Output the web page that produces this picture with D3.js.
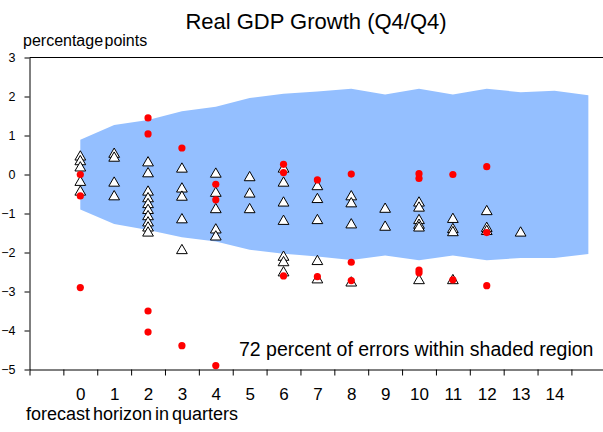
<!DOCTYPE html>
<html>
<head>
<meta charset="utf-8">
<script src="https://cdn.jsdelivr.net/npm/d3@7"></script>
<style>
  body { margin: 0; background: white; }
  text { font-family: 'Liberation Sans', Arial, sans-serif; fill: #000; }
</style>
</head>
<body>
<div id="chart"></div>
<script>
/* global d3 */

// forecast horizon (quarters) for the shaded band
var horizons = [0, 1, 2, 3, 4, 5, 6, 7, 8, 9, 10, 11, 12, 13, 14, 15];
var bandUpper = [0.89, 1.27, 1.40, 1.62, 1.74, 1.96, 2.07, 2.13, 2.20, 2.05, 2.20, 2.05, 2.20, 2.11, 2.15, 2.03];
var bandLower = [-0.90, -1.27, -1.42, -1.61, -1.72, -1.93, -2.03, -2.10, -2.19, -2.08, -2.20, -2.08, -2.20, -2.14, -2.14, -2.04];

// errors drawn as open triangles, one list per horizon 0..13
var triangleErrors = [
  [0.45, 0.33, 0.17, -0.20, -0.45],
  [0.52, 0.42, -0.22, -0.57],
  [0.30, 0.02, -0.45, -0.62, -0.77, -0.92, -1.08, -1.24, -1.37, -1.50],
  [0.14, -0.37, -0.58, -1.16, -1.95],
  [0.01, -0.48, -0.90, -1.42, -1.60],
  [-0.08, -0.50, -0.90],
  [0.14, -0.22, -0.73, -1.20, -2.12, -2.26, -2.52],
  [-0.31, -0.64, -1.18, -2.23, -2.70],
  [-0.57, -0.75, -1.29, -2.78],
  [-0.89, -1.35],
  [-0.73, -0.86, -1.18, -1.30, -1.37, -2.72],
  [-1.15, -1.41, -1.49, -2.72],
  [-0.95, -1.38, -1.46],
  [-1.50]
];

// errors drawn as red dots, one list per horizon 0..12
var dotErrors = [
  [0.00, -0.55, -2.90],
  [],
  [1.45, 1.04, -3.50, -4.04],
  [0.68, -4.39],
  [-0.25, -0.65, -4.90],
  [],
  [0.26, 0.05, -2.60],
  [-0.14, -2.62],
  [0.01, -2.25, -2.72],
  [],
  [0.02, -0.10, -2.45, -2.52],
  [0.00, -2.70],
  [0.20, -1.49, -2.85]
];

var xTickLabels = [0, 1, 2, 3, 4, 5, 6, 7, 8, 9, 10, 11, 12, 13, 14];
var xTickMarks = [-1.5, -0.5, 0.5, 1.5, 2.5, 3.5, 4.5, 5.5, 6.5, 7.5, 8.5, 9.5, 10.5, 11.5, 12.5, 13.5, 14.5, 15.5];
var yTickValues = [-5, -4, -3, -2, -1, 0, 1, 2, 3];

var WIDTH = 603;
var HEIGHT = 432;
var LEFT = 29.5;
var TOP = 57.5;
var BOTTOM = 369.5;

var svg = d3.select('#chart')
  .append('svg')
  .attr('width', WIDTH)
  .attr('height', HEIGHT)
  .style('background', 'white');

var x = d3.scaleLinear().domain([-1.5, 15.5]).range([LEFT, LEFT + 17 * 33.87]);
var y = d3.scaleLinear().domain([-5, 3]).range([BOTTOM, TOP]);

// shaded region
var area = d3.area()
  .x(function(d, i) { return x(horizons[i]); })
  .y0(function(d, i) { return y(bandLower[i]); })
  .y1(function(d, i) { return y(bandUpper[i]); });

svg.append('path')
  .datum(horizons)
  .attr('d', area)
  .attr('fill', '#94bfff');

// flatten the per-horizon lists into points
function toPoints(lists) {
  var pts = [];
  lists.forEach(function(vals, h) {
    vals.forEach(function(v) { pts.push({ h: h, v: v }); });
  });
  return pts;
}

var tri = d3.symbol().type(d3.symbolTriangle).size(50);

svg.append('g')
  .selectAll('path')
  .data(toPoints(triangleErrors))
  .enter()
  .append('path')
  .attr('d', tri)
  .attr('transform', function(d) { return 'translate(' + x(d.h) + ',' + y(d.v) + ')'; })
  .attr('fill', 'white')
  .attr('stroke', 'black')
  .attr('stroke-width', 1);

svg.append('g')
  .selectAll('circle')
  .data(toPoints(dotErrors))
  .enter()
  .append('circle')
  .attr('cx', function(d) { return x(d.h); })
  .attr('cy', function(d) { return y(d.v); })
  .attr('r', 3.6)
  .attr('fill', '#ff0000');

// top frame line
svg.append('line')
  .attr('x1', LEFT).attr('x2', WIDTH)
  .attr('y1', TOP).attr('y2', TOP)
  .attr('stroke', 'black')
  .attr('stroke-width', 1);

// y axis
var yAxis = svg.append('g')
  .attr('transform', 'translate(' + LEFT + ',0)')
  .call(d3.axisLeft(y).tickValues(yTickValues).tickSize(5).tickSizeOuter(0).tickPadding(9));
yAxis.selectAll('text').style('font-size', '12.5px').attr('font-family', null);

// x axis: tick marks between categories
var xAxis = svg.append('g')
  .attr('transform', 'translate(0,' + BOTTOM + ')')
  .call(d3.axisBottom(x).tickValues(xTickMarks).tickSize(6).tickSizeOuter(0).tickFormat(''));

// x labels centred on the categories
var xLabels = svg.append('g')
  .attr('transform', 'translate(0,' + BOTTOM + ')')
  .call(d3.axisBottom(x).tickValues(xTickLabels).tickSize(0).tickPadding(18).tickFormat(d3.format('d')));
xLabels.select('.domain').remove();
xLabels.selectAll('text').style('font-size', '17px').attr('font-family', null);

[yAxis, xAxis].forEach(function(g) {
  g.selectAll('line, path').attr('stroke', 'black');
});

svg.append('text')
  .attr('x', 316)
  .attr('y', 29)
  .attr('text-anchor', 'middle')
  .style('font-size', '22px')
  .text('Real GDP Growth (Q4/Q4)');

svg.append('text')
  .attr('x', 23)
  .attr('y', 46)
  .style('font-size', '16px')
  .style('word-spacing', '-3px')
  .text('percentage points');

svg.append('text')
  .attr('x', 26)
  .attr('y', 420)
  .style('font-size', '18px')
  .style('word-spacing', '-2px')
  .text('forecast horizon in quarters');

svg.append('text')
  .attr('x', 239)
  .attr('y', 356)
  .style('font-size', '19.5px')
  .text('72 percent of errors within shaded region');
</script>
</body>
</html>
